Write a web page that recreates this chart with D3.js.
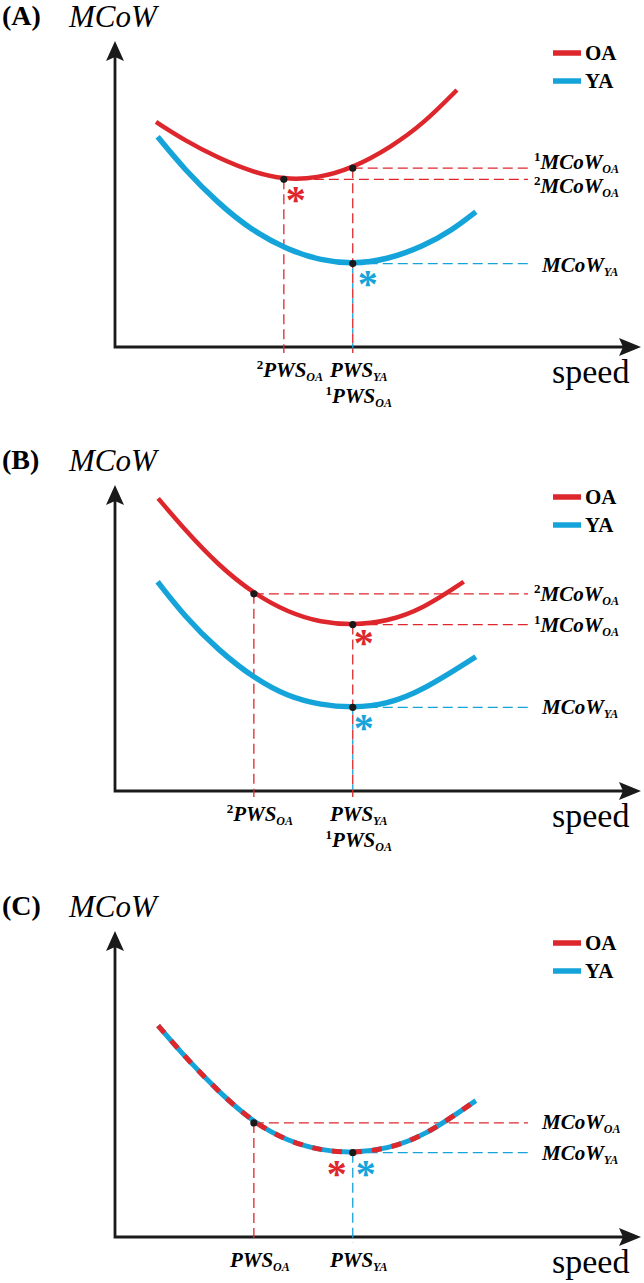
<!DOCTYPE html>
<html>
<head>
<meta charset="utf-8">
<script src="https://cdn.jsdelivr.net/npm/d3@7"></script>
<style>
  body { margin: 0; background: #fff; }
  svg { display: block; }
</style>
</head>
<body>
<script>
var panelLetters = ['(A)', '(B)', '(C)'];
var seriesNames = ['OA', 'YA'];

// (A)
var speedOA_A = [0.78, 1.33, 1.96, 2.59, 3.21, 3.84, 4.52, 5.25, 5.88, 6.50];
var mcowOA_A  = [7.26, 6.66, 6.10, 5.66, 5.40, 5.44, 5.77, 6.45, 7.23, 8.29];
var speedYA_A = [0.81, 1.33, 1.96, 2.59, 3.29, 3.92, 4.52, 5.16, 5.87, 6.41, 6.86];
var mcowYA_A  = [6.78, 5.71, 4.64, 3.77, 3.13, 2.79, 2.68, 2.81, 3.25, 3.77, 4.36];

// (B)
var speedOA_B = [0.82, 1.33, 1.96, 2.64, 3.29, 3.92, 4.52, 5.16, 5.87, 6.63];
var mcowOA_B  = [9.44, 8.42, 7.29, 6.36, 5.76, 5.43, 5.36, 5.46, 5.89, 6.75];
var speedYA_B = [0.81, 1.33, 1.96, 2.64, 3.29, 3.92, 4.52, 5.16, 5.87, 6.86];
var mcowYA_B  = [6.75, 5.62, 4.55, 3.64, 3.04, 2.77, 2.69, 2.79, 3.26, 4.33];

// (C) both groups on the same curve
var speedC = [0.82, 1.33, 1.96, 2.64, 3.29, 3.92, 4.52, 5.16, 5.87, 6.86];
var mcowC  = [6.82, 5.81, 4.70, 3.68, 3.09, 2.79, 2.71, 2.84, 3.24, 4.40];

// marked points: speed, MCoW, group
var markSpeedA = [4.52, 3.21, 4.52];
var markMcowA  = [5.77, 5.41, 2.69];
var markGroupA = ['OA', 'OA', 'YA'];
var markSpeedB = [2.64, 4.52, 4.52];
var markMcowB  = [6.36, 5.37, 2.70];
var markGroupB = ['OA', 'OA', 'YA'];
var markSpeedC = [2.64, 4.52];
var markMcowC  = [3.68, 2.72];
var markGroupC = ['OA', 'YA'];

// labels: [superscript, main, subscript]
var mcowLabelsA = [['1', 'MCoW', 'OA'], ['2', 'MCoW', 'OA'], ['', 'MCoW', 'YA']];
var mcowLabelsB = [['2', 'MCoW', 'OA'], ['1', 'MCoW', 'OA'], ['', 'MCoW', 'YA']];
var mcowLabelsC = [['', 'MCoW', 'OA'], ['', 'MCoW', 'YA']];
var pwsLabelsA = [[['2', 'PWS', 'OA']], [['', 'PWS', 'YA'], ['1', 'PWS', 'OA']]];
var pwsLabelsB = [[['2', 'PWS', 'OA']], [['', 'PWS', 'YA'], ['1', 'PWS', 'OA']]];
var pwsLabelsC = [[['', 'PWS', 'OA']], [['', 'PWS', 'YA']]];
var pwsSpeedA = [3.21, 4.52];
var pwsSpeedB = [2.64, 4.52];
var pwsSpeedC = [2.64, 4.52];

var RED = '#de272c', BLUE = '#15a4d9';
var FONT = "'Liberation Serif', 'Times New Roman', serif";
var colorOf = { OA: RED, YA: BLUE };

var zip = function(xs, ys) { return xs.map(function(v, i) { return [v, ys[i]]; }); };

var panels = [
  { top: 0, curves: [{ g: 'OA', pts: zip(speedOA_A, mcowOA_A) }, { g: 'YA', pts: zip(speedYA_A, mcowYA_A) }],
    marks: zip(markSpeedA, markMcowA), groups: markGroupA, mLabels: mcowLabelsA, labelDy: [1, 14, 8],
    pws: pwsSpeedA, pLabels: pwsLabelsA, stars: [[1, 12, 15], [2, 15, 14]] },
  { top: 444, curves: [{ g: 'OA', pts: zip(speedOA_B, mcowOA_B) }, { g: 'YA', pts: zip(speedYA_B, mcowYA_B) }],
    marks: zip(markSpeedB, markMcowB), groups: markGroupB, mLabels: mcowLabelsB, labelDy: [7, 7, 7],
    pws: pwsSpeedB, pLabels: pwsLabelsB, stars: [[1, 11, 12], [2, 11, 15]] },
  { top: 890, curves: [{ g: 'both', pts: zip(speedC, mcowC) }],
    marks: zip(markSpeedC, markMcowC), groups: markGroupC, mLabels: mcowLabelsC, labelDy: [6, 7],
    pws: pwsSpeedC, pLabels: pwsLabelsC, stars: [[1, -16, 15, RED], [1, 13, 15, BLUE]] }
];

var W = 644, H = 1283;
var svg = d3.select('body').append('svg').attr('width', W).attr('height', H)
  .style('background', '#fff');

var x = d3.scaleLinear().domain([0, 10]).range([115, 641]);
var y = d3.scaleLinear().domain([0, 10]).range([347, 37]);
var line = d3.line().x(function(d) { return x(d[0]); }).y(function(d) { return y(d[1]); })
  .curve(d3.curveBasis);

var guideEnd = 528, labelX = 534;
var DASH = 10, GAP = 5;

function richText(sel, parts, big, small) {
  sel.style('font-family', FONT);
  if (parts[0]) {
    sel.append('tspan').attr('font-style', 'normal').attr('font-size', small + 1)
      .attr('dy', -8).text(parts[0]);
    sel.append('tspan').attr('dy', 8).attr('font-size', big).text(parts[1]);
  } else {
    sel.append('tspan').attr('font-size', big).text(parts[1]);
  }
  sel.append('tspan').attr('font-size', small).attr('dy', 4).text(parts[2]);
}

panels.forEach(function(p, pi) {
  var g = svg.append('g').attr('transform', 'translate(0,' + p.top + ')');

  // panel letter + y title
  g.append('text').attr('x', 2).attr('y', 25).style('font-family', FONT)
    .attr('font-weight', 'bold').attr('font-size', 28).text(panelLetters[pi]);
  g.append('text').attr('x', 69).attr('y', 27).style('font-family', FONT)
    .attr('font-style', 'italic').attr('font-size', 31).text('MCoW');

  // axes with arrow heads
  g.append('path')
    .attr('d', 'M' + x(0) + ',' + (y(10) + 12) + 'V' + y(0) + 'H' + (x(10) - 12))
    .attr('fill', 'none').attr('stroke', '#1a1a1a').attr('stroke-width', 2.8);
  g.append('path')
    .attr('d', 'M' + x(0) + ',' + (y(10) + 4) + 'l-9,20 l9,-4 l9,4z')
    .attr('fill', '#1a1a1a');
  g.append('path')
    .attr('d', 'M' + x(10) + ',' + y(0) + 'l-22,-9 l4,9 l-4,9z')
    .attr('fill', '#1a1a1a');
  g.append('text').attr('x', 552).attr('y', 383).style('font-family', FONT)
    .attr('font-size', 34).text('speed');

  // guides: horizontal to label, vertical to axis
  p.marks.forEach(function(m, i) {
    var c = colorOf[p.groups[i]];
    g.append('line').attr('x1', x(m[0])).attr('x2', guideEnd)
      .attr('y1', y(m[1])).attr('y2', y(m[1]))
      .attr('stroke', c).attr('stroke-width', 1.3).attr('stroke-dasharray', DASH + ',' + GAP);

    // a red guide higher on the same x: put the blue dashes into its gaps
    var above = p.marks.findIndex(function(o, k) {
      return k !== i && o[0] === m[0] && o[1] > m[1];
    });
    var vl = g.append('line').attr('x1', x(m[0])).attr('x2', x(m[0]))
      .attr('y1', y(m[1])).attr('y2', y(0) + 6)
      .attr('stroke', c).attr('stroke-width', 1.3);
    if (above >= 0) {
      var per = DASH + GAP;
      var phase = ((y(m[1]) - y(p.marks[above][1])) % per + per) % per;
      var r = ((DASH - phase) % per + per) % per;
      vl.attr('stroke-dasharray', GAP + ',' + DASH).attr('stroke-dashoffset', (per - r) % per);
    } else {
      vl.attr('stroke-dasharray', DASH + ',' + GAP);
    }
  });

  // curves
  p.curves.forEach(function(cv) {
    if (cv.g === 'both') {
      g.append('path').attr('d', line(cv.pts)).attr('fill', 'none')
        .attr('stroke', BLUE).attr('stroke-width', 5);
      g.append('path').attr('d', line(cv.pts)).attr('fill', 'none')
        .attr('stroke', RED).attr('stroke-width', 5).attr('stroke-dasharray', '10,10');
    } else {
      g.append('path').attr('d', line(cv.pts)).attr('fill', 'none')
        .attr('stroke', colorOf[cv.g]).attr('stroke-width', cv.g === 'OA' ? 4.5 : 5.5);
    }
  });

  // dots
  g.selectAll('circle.dot').data(p.marks).enter().append('circle')
    .attr('cx', function(d) { return x(d[0]); }).attr('cy', function(d) { return y(d[1]); })
    .attr('r', 3.6).attr('fill', '#1a1a1a');

  // asterisks at the minima
  p.stars.forEach(function(s) {
    var m = p.marks[s[0]];
    var c = s[3] || colorOf[p.groups[s[0]]];
    g.append('text').attr('x', x(m[0]) + s[1]).attr('y', y(m[1]) + s[2] + 19)
      .attr('text-anchor', 'middle').style('font-family', FONT).attr('font-weight', 'bold')
      .attr('font-size', 40).attr('fill', c).text('*');
  });

  // MCoW labels on the right
  p.mLabels.forEach(function(lb, i) {
    var t = g.append('text').attr('x', lb[0] ? labelX : labelX + 8)
      .attr('y', y(p.marks[i][1]) + p.labelDy[i])
      .attr('font-weight', 'bold').attr('font-style', 'italic');
    richText(t, lb, 21, 12);
  });

  // PWS labels under the axis
  p.pws.forEach(function(s, i) {
    p.pLabels[i].forEach(function(lb, k) {
      var t = g.append('text').attr('x', x(s) + 6).attr('y', 377 + k * 26)
        .attr('text-anchor', 'middle')
        .attr('font-weight', 'bold').attr('font-style', 'italic');
      richText(t, lb, 21, 12);
    });
  });

  // legend
  var leg = g.append('g');
  seriesNames.forEach(function(n, i) {
    var ly = 53 + i * 28;
    leg.append('line').attr('x1', 553).attr('x2', 581).attr('y1', ly).attr('y2', ly)
      .attr('stroke', colorOf[n]).attr('stroke-width', 5.5);
    leg.append('text').attr('x', 585).attr('y', ly + 7).style('font-family', FONT)
      .attr('font-weight', 'bold').attr('font-size', 21).text(n);
  });
});
</script>
</body>
</html>
